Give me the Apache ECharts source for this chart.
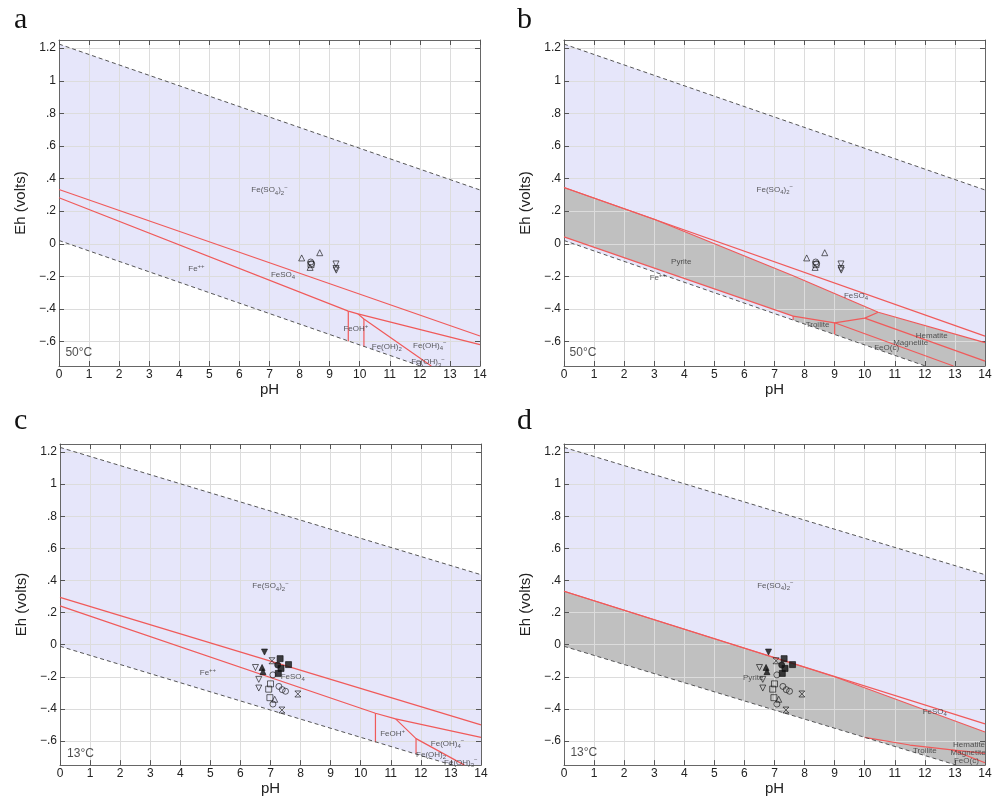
<!DOCTYPE html>
<html>
<head>
<meta charset="utf-8">
<script src="https://cdn.jsdelivr.net/npm/echarts@6/dist/echarts.min.js"></script>
<style>
html, body { margin: 0; padding: 0; background: #fff; }
#main { width: 998px; height: 797px; }
</style>
</head>
<body>
<div id="main"></div>
<script>
var FONT = 'Liberation Sans, Arial, Helvetica, sans-serif';

// tick values
var ehTicks = [-0.6, -0.4, -0.2, 0, 0.2, 0.4, 0.6, 0.8, 1, 1.2];

// water stability limits (dashed)
var water50Upper = [[0, 1.225], [14, 0.33]];
var water50Lower = [[0, 0.02], [14, -0.877]];
var water13Upper = [[0, 1.229], [14, 0.436]];
var water13Lower = [[0, -0.01], [14, -0.804]];

// panel a boundaries (50 C)
var aUpper = [[0, 0.333], [14, -0.566]];
var aLower = [[0, 0.282], [9.62, -0.413], [9.94, -0.43], [14, -0.619]];
var aFeOHLeft = [[9.62, -0.413], [9.62, -0.598]];
var aFeOHDiag = [[9.94, -0.43], [10.14, -0.462], [12.38, -0.75]];
var aFeOH2Left = [[10.14, -0.462], [10.14, -0.632]];

// panel b boundaries (50 C, with sulfide minerals)
var bUpper = [[0, 0.345], [14, -0.567]];
var bPyriteTop = [[0, 0.345], [3, 0.15], [7.6, -0.195], [10.45, -0.42], [14, -0.607]];
var bPyriteLow = [[0, 0.042], [7.62, -0.444]];
var bTroiliteTop = [[7.62, -0.444], [9, -0.485], [10, -0.456], [10.45, -0.42]];
var bTroiliteLeft = [[7.62, -0.444], [7.62, -0.468]];
var bTroiliteRight = [[9, -0.485], [9, -0.557]];
var bHemMag = [[10, -0.456], [14, -0.72]];
var bMagFeO = [[9, -0.485], [12.95, -0.75]];

// panel c boundaries (13 C)
var cUpper = [[0, 0.295], [14, -0.499]];
var cLower = [[0, 0.242], [10.49, -0.427], [11.16, -0.462], [14, -0.577]];
var cFeOHLeft = [[10.49, -0.427], [10.49, -0.608]];
var cFeOHDiag = [[11.16, -0.462], [11.84, -0.585], [13.45, -0.75]];
var cFeOH2Left = [[11.84, -0.585], [11.84, -0.681]];

// panel d boundaries (13 C, with sulfide minerals)
var dUpper = [[0, 0.333], [14, -0.493]];
var dPyriteTop = [[0, 0.333], [9, -0.2], [14, -0.544]];
var dTroiliteTop = [[10, -0.577], [11.5, -0.625], [12.9, -0.655], [14, -0.677]];
var dMagFeO = [[12.9, -0.655], [14, -0.735]];

// field labels
var aLabels = [[7.0, 0.33, 'Fe(SO4)2-'], [4.57, -0.154, 'Fe++'], [7.45, -0.19, 'FeSO4'],
  [9.87, -0.524, 'FeOH+'], [10.9, -0.63, 'Fe(OH)2'], [12.33, -0.623, 'Fe(OH)4-'], [12.27, -0.725, 'Fe(OH)3-']];
var bLabels = [[7.01, 0.332, 'Fe(SO4)2-'], [3.9, -0.108, 'Pyrite'], [3.12, -0.21, 'Fe++'], [9.71, -0.318, 'FeSO4'],
  [8.43, -0.495, 'Troilite'], [12.23, -0.563, 'Hematite'], [11.53, -0.607, 'Magnetite'], [10.73, -0.638, 'FeO(c)']];
var cLabels = [[7.0, 0.366, 'Fe(SO4)2-'], [4.92, -0.176, 'Fe++'], [7.74, -0.199, 'FeSO4'],
  [11.06, -0.556, 'FeOH+'], [12.89, -0.617, 'Fe(OH)4-'], [12.34, -0.683, 'Fe(OH)2'], [13.33, -0.733, 'Fe(OH)3-']];
var dLabels = [[7.03, 0.369, 'Fe(SO4)2-'], [6.29, -0.208, 'Pyrite'], [12.33, -0.416, 'FeSO4'],
  [12.0, -0.663, 'Troilite'], [13.47, -0.626, 'Hematite'], [13.44, -0.675, 'Magnetite'], [13.38, -0.724, 'FeO(c)']];
var tempLabels = [[0.66, -0.668, '50°C'], [0.63, -0.668, '50°C'], [0.68, -0.677, '13°C'], [0.66, -0.67, '13°C']];

// samples at 50 C
var warmTriUp = [[8.07, -0.087], [8.67, -0.055], [8.35, -0.145]];
var warmCircle = [[8.37, -0.112], [8.4, -0.122]];
var warmSquare = [[8.38, -0.128]];
var warmTriDown = [[9.21, -0.124], [9.21, -0.152], [9.22, -0.162]];

// samples at 13 C
var coldTriDownFilled = [[6.8, -0.046]];
var coldSquareFilled = [[7.32, -0.087], [7.6, -0.124], [7.35, -0.148], [7.26, -0.179]];
var coldCircleFilled = [[7.24, -0.127]];
var coldTriUpFilled = [[6.72, -0.142], [6.75, -0.168]];
var coldHourglass = [[7.05, -0.1], [7.91, -0.307], [7.38, -0.407]];
var coldTriDown = [[6.5, -0.142], [6.61, -0.216], [6.61, -0.27]];
var coldCircle = [[7.08, -0.188], [7.28, -0.26], [7.39, -0.28], [7.5, -0.29], [7.08, -0.37]];
var coldSquare = [[7.0, -0.244], [6.94, -0.277], [6.98, -0.33]];
var coldTriUp = [[7.14, -0.34]];

var LAVENDER = '#e6e6fa';
var GRAY = '#c0c0c0';
var RED = '#f05a5a';

var grids = [
  { left: 59, top: 40, width: 421, height: 326 },
  { left: 564, top: 40, width: 421, height: 326 },
  { left: 60, top: 444, width: 421, height: 327 },
  { left: 564, top: 444, width: 421, height: 327 }
];

function fmtEh(v) {
  if (Math.abs(v) < 1e-9) return '0';
  var s = String(Math.round(Math.abs(v) * 10) / 10).replace(/^0/, '');
  return (v < 0 ? '\u2212' : '') + s;
}

function chem(s) {
  var m = s.match(/^(.*?)([+-]*)$/);
  var out = '';
  m[1].split(/(\d+)/).forEach(function (t, i) {
    if (!t) return;
    out += (i % 2 ? '{sb|' : '{n|') + t + '}';
  });
  if (m[2]) out += '{sp|' + m[2].replace(/-/g, '\u2212') + '}';
  return out;
}

var RICH = {
  n: { fontSize: 8, color: '#333', fontFamily: FONT, lineHeight: 12 },
  sb: { fontSize: 6, color: '#333', fontFamily: FONT, lineHeight: 6, verticalAlign: 'bottom' },
  sp: { fontSize: 6, color: '#333', fontFamily: FONT, lineHeight: 6, verticalAlign: 'top' }
};

var xAxes = [], yAxes = [], series = [];

grids.forEach(function (g, gi) {
  xAxes.push({
    gridIndex: gi, type: 'value', min: 0, max: 14, interval: 1, position: 'bottom', z: 2,
    name: 'pH', nameLocation: 'middle', nameGap: 15,
    nameTextStyle: { fontSize: 15, color: '#222', fontFamily: FONT },
    axisLine: { show: true, onZero: false, lineStyle: { color: '#666', width: 1 } },
    axisTick: { show: true, inside: true, length: 5, lineStyle: { color: '#555' } },
    axisLabel: { fontSize: 12, color: '#222', margin: 3, fontFamily: FONT },
    splitLine: { show: true, lineStyle: { color: '#dcdcdc', width: 1 } }
  });
  xAxes.push({
    gridIndex: gi, type: 'value', min: 0, max: 14, interval: 1, position: 'top', z: 2,
    axisLine: { show: true, onZero: false, lineStyle: { color: '#666', width: 1 } },
    axisTick: { show: true, inside: true, length: 5, lineStyle: { color: '#555' } },
    axisLabel: { show: false }, splitLine: { show: false }
  });
  yAxes.push({
    gridIndex: gi, type: 'value', min: -0.75, max: 1.25, splitNumber: 10, position: 'left', z: 2,
    name: 'Eh (volts)', nameLocation: 'middle', nameGap: 31, nameRotate: 90,
    nameTextStyle: { fontSize: 15, color: '#222', fontFamily: FONT },
    axisLine: { show: true, onZero: false, lineStyle: { color: '#666', width: 1 } },
    axisTick: { show: true, inside: true, length: 5, customValues: ehTicks, lineStyle: { color: '#555' } },
    axisLabel: { fontSize: 12, color: '#222', margin: 3, fontFamily: FONT, customValues: ehTicks, formatter: fmtEh },
    splitLine: { show: true, lineStyle: { color: '#dcdcdc', width: 1 } }
  });
  yAxes.push({
    gridIndex: gi, type: 'value', min: -0.75, max: 1.25, position: 'right', z: 2,
    axisLine: { show: true, onZero: false, lineStyle: { color: '#666', width: 1 } },
    axisTick: { show: true, inside: true, length: 5, customValues: ehTicks, lineStyle: { color: '#555' } },
    axisLabel: { show: false }, splitLine: { show: false }
  });
});

function polygon(gi, pts, color) {
  return {
    type: 'custom', xAxisIndex: gi * 2, yAxisIndex: gi * 2, clip: true, silent: true, z: 1,
    data: [0],
    renderItem: function (params, api) {
      return {
        type: 'polygon',
        shape: { points: pts.map(function (p) { return api.coord(p); }) },
        style: { fill: color }
      };
    }
  };
}

function line(gi, data, color, dashed) {
  return {
    type: 'line', xAxisIndex: gi * 2, yAxisIndex: gi * 2, data: data, symbol: 'none', silent: true, z: 3,
    lineStyle: dashed ? { color: '#555', width: 1, type: [4, 3] } : { color: color, width: 1.2 },
    animation: false
  };
}

function markers(gi, data, symbol, filled, rotate) {
  return {
    type: 'scatter', xAxisIndex: gi * 2, yAxisIndex: gi * 2, data: data, symbol: symbol,
    symbolSize: 6, symbolRotate: rotate || 0, silent: true, z: 5,
    itemStyle: { color: filled ? '#111' : 'rgba(0,0,0,0)', borderColor: '#111', borderWidth: 0.8 }
  };
}

function labels(gi, items, plain) {
  return {
    type: 'scatter', xAxisIndex: gi * 2, yAxisIndex: gi * 2, symbolSize: 1, silent: true, z: 6,
    itemStyle: { color: 'rgba(0,0,0,0)' },
    data: items.map(function (d) { return { value: [d[0], d[1]], name: d[2] }; }),
    label: plain ?
      { show: true, position: 'inside', fontSize: 12, color: '#222', fontFamily: FONT, formatter: '{b}' } :
      { show: true, position: 'inside', formatter: function (p) { return chem(p.name); }, rich: RICH }
  };
}

function band(upper, lower) {
  return upper.concat(lower.slice().reverse());
}

var HOURGLASS = 'path://M0,0L10,0L0,10L10,10Z';

// panel a
series.push(polygon(0, band(water50Upper, water50Lower), LAVENDER));
[aUpper, aLower, aFeOHLeft, aFeOHDiag, aFeOH2Left].forEach(function (d) { series.push(line(0, d, RED)); });
// panel b
series.push(polygon(1, band(water50Upper, water50Lower), LAVENDER));
series.push(polygon(1, bPyriteTop.concat([water50Lower[1], bTroiliteLeft[1]], bPyriteLow.slice().reverse()), GRAY));
[bUpper, bPyriteTop, bPyriteLow, bTroiliteTop, bTroiliteLeft, bTroiliteRight, bHemMag, bMagFeO]
  .forEach(function (d) { series.push(line(1, d, RED)); });
// panel c
series.push(polygon(2, band(water13Upper, water13Lower), LAVENDER));
[cUpper, cLower, cFeOHLeft, cFeOHDiag, cFeOH2Left].forEach(function (d) { series.push(line(2, d, RED)); });
// panel d
series.push(polygon(3, band(water13Upper, water13Lower), LAVENDER));
series.push(polygon(3, dPyriteTop.concat([water13Lower[1], water13Lower[0]]), GRAY));
[dUpper, dPyriteTop, dTroiliteTop, dMagFeO].forEach(function (d) { series.push(line(3, d, RED)); });

[[water50Upper, water50Lower], [water50Upper, water50Lower], [water13Upper, water13Lower], [water13Upper, water13Lower]]
  .forEach(function (w, gi) {
    series.push(line(gi, w[0], null, true));
    series.push(line(gi, w[1], null, true));
  });

[aLabels, bLabels, cLabels, dLabels].forEach(function (l, gi) {
  series.push(labels(gi, l));
  series.push(labels(gi, [tempLabels[gi]], true));
});

[0, 1].forEach(function (gi) {
  series.push(markers(gi, warmTriUp, 'triangle', false));
  series.push(markers(gi, warmCircle, 'circle', false));
  series.push(markers(gi, warmSquare, 'rect', false));
  series.push(markers(gi, warmTriDown, 'triangle', false, 180));
});
[2, 3].forEach(function (gi) {
  series.push(markers(gi, coldTriDown, 'triangle', false, 180));
  series.push(markers(gi, coldCircle, 'circle', false));
  series.push(markers(gi, coldSquare, 'rect', false));
  series.push(markers(gi, coldTriUp, 'triangle', false));
  series.push(markers(gi, coldHourglass, HOURGLASS, false));
  series.push(markers(gi, coldTriDownFilled, 'triangle', true, 180));
  series.push(markers(gi, coldSquareFilled, 'rect', true));
  series.push(markers(gi, coldCircleFilled, 'circle', true));
  series.push(markers(gi, coldTriUpFilled, 'triangle', true));
});

var panelLetters = [['a', 14, 39], ['b', 517, 39], ['c', 14, 440], ['d', 517, 440]];

var chart = echarts.init(document.getElementById('main'));
chart.setOption({
  animation: false,
  grid: grids,
  xAxis: xAxes,
  yAxis: yAxes,
  series: series,
  graphic: panelLetters.map(function (p) {
    return {
      type: 'text', left: p[1], top: p[2] - 34,
      style: { text: p[0], fontSize: 30, fontFamily: 'Liberation Serif, Times New Roman, serif', fill: '#111' }
    };
  })
});
</script>
</body>
</html>
